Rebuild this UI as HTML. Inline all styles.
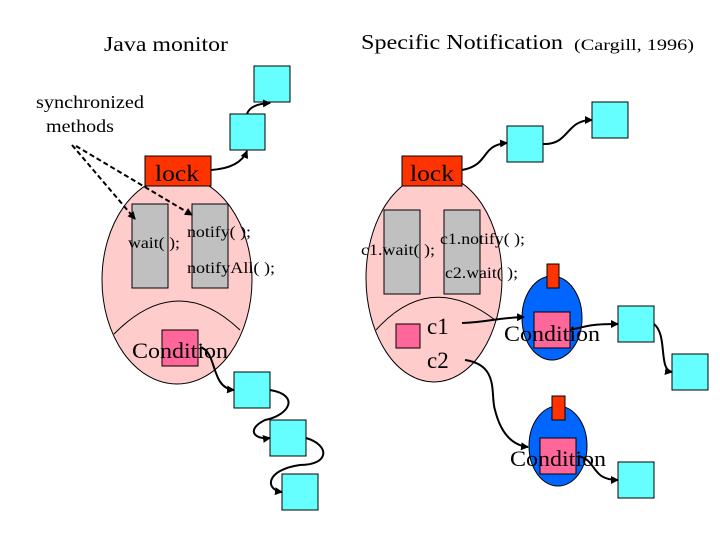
<!DOCTYPE html>
<html><head><meta charset="utf-8"><style>body{margin:0;background:#fff}svg{display:block}</style></head>
<body>
<svg width="720" height="540" viewBox="0 0 720 540" xmlns="http://www.w3.org/2000/svg" font-family="Liberation Serif, serif">
<defs>
<marker id="a" markerWidth="8" markerHeight="8" refX="7" refY="4" orient="auto" markerUnits="userSpaceOnUse"><path d="M0,0 L8,4 L0,8 z" fill="#000"/></marker>
</defs>
<text x="104" y="51" font-size="21" textLength="124" lengthAdjust="spacingAndGlyphs">Java monitor</text>
<text x="361" y="49" font-size="21" textLength="202" lengthAdjust="spacingAndGlyphs">Specific Notification</text>
<text x="574" y="50" font-size="16" textLength="120" lengthAdjust="spacingAndGlyphs">(Cargill, 1996)</text>
<text x="36" y="108" font-size="18" textLength="108" lengthAdjust="spacingAndGlyphs">synchronized</text>
<text x="46" y="132" font-size="18" textLength="68" lengthAdjust="spacingAndGlyphs">methods</text>

<!-- left monitor -->
<ellipse cx="177" cy="280" rx="75" ry="104" fill="#ffcccc" stroke="#000" stroke-width="1"/>
<path d="M114,334 Q177,270 240,330" fill="none" stroke="#000" stroke-width="1"/>
<rect x="132" y="204" width="36" height="84" fill="#c0c0c0" stroke="#000"/>
<rect x="192" y="204" width="36" height="84" fill="#c0c0c0" stroke="#000"/>
<text x="128" y="248" font-size="16" textLength="52" lengthAdjust="spacingAndGlyphs">wait( );</text>
<text x="187" y="237" font-size="16" textLength="64" lengthAdjust="spacingAndGlyphs">notify( );</text>
<text x="187" y="273" font-size="16" textLength="88" lengthAdjust="spacingAndGlyphs">notifyAll( );</text>
<rect x="162" y="330" width="36" height="36" fill="#ff6699" stroke="#000"/>
<text x="132" y="358" font-size="22" textLength="96" lengthAdjust="spacingAndGlyphs">Condition</text>
<rect x="145" y="156" width="66" height="30" fill="#ff3300" stroke="#000"/>
<text x="155" y="181" font-size="23" textLength="44" lengthAdjust="spacingAndGlyphs">lock</text>
<path d="M72,145 L135,219" stroke="#000" stroke-width="2" stroke-dasharray="5,3" fill="none" marker-end="url(#a)"/>
<path d="M76,146 L192,215" stroke="#000" stroke-width="2" stroke-dasharray="5,3" fill="none" marker-end="url(#a)"/>

<rect x="230" y="114" width="35" height="36" fill="#66ffff" stroke="#000"/>
<rect x="254" y="66" width="36" height="36" fill="#66ffff" stroke="#000"/>
<path d="M211,170 Q240,168 247,151" stroke="#000" stroke-width="2" fill="none" marker-end="url(#a)"/>
<path d="M247,114 Q250,104 270,103" stroke="#000" stroke-width="2" fill="none" marker-end="url(#a)"/>

<rect x="234" y="372" width="36" height="36" fill="#66ffff" stroke="#000"/>
<rect x="270" y="420" width="36" height="36" fill="#66ffff" stroke="#000"/>
<rect x="282" y="474" width="36" height="36" fill="#66ffff" stroke="#000"/>
<path d="M200,347 C218,352 210,388 234,390" stroke="#000" stroke-width="2" fill="none" marker-end="url(#a)"/>
<path d="M270,390 C300,395 290,415 265,420 C245,430 255,440 270,438" stroke="#000" stroke-width="2" fill="none" marker-end="url(#a)"/>
<path d="M306,438 C330,445 330,465 300,465 C265,470 265,490 282,492" stroke="#000" stroke-width="2" fill="none" marker-end="url(#a)"/>

<!-- right monitor -->
<ellipse cx="434" cy="278" rx="68" ry="104" fill="#ffcccc" stroke="#000" stroke-width="1"/>
<path d="M376,330 Q430,270 495,320" fill="none" stroke="#000" stroke-width="1"/>
<rect x="384" y="210" width="36" height="84" fill="#c0c0c0" stroke="#000"/>
<rect x="444" y="210" width="36" height="84" fill="#c0c0c0" stroke="#000"/>
<text x="361" y="255" font-size="16" textLength="74" lengthAdjust="spacingAndGlyphs">c1.wait( );</text>
<text x="440" y="244" font-size="16" textLength="85" lengthAdjust="spacingAndGlyphs">c1.notify( );</text>
<text x="445" y="278" font-size="16" textLength="73" lengthAdjust="spacingAndGlyphs">c2.wait( );</text>
<rect x="396" y="324" width="24" height="24" fill="#ff6699" stroke="#000"/>
<text x="427" y="334" font-size="23">c1</text>
<text x="427" y="368" font-size="23">c2</text>
<rect x="402" y="156" width="60" height="30" fill="#ff3300" stroke="#000"/>
<text x="410" y="181" font-size="23" textLength="44" lengthAdjust="spacingAndGlyphs">lock</text>

<rect x="507" y="126" width="36" height="36" fill="#66ffff" stroke="#000"/>
<rect x="592" y="102" width="36" height="36" fill="#66ffff" stroke="#000"/>
<path d="M462,170 C490,165 480,145 507,143" stroke="#000" stroke-width="2" fill="none" marker-end="url(#a)"/>
<path d="M543,144 C570,145 565,120 592,120" stroke="#000" stroke-width="2" fill="none" marker-end="url(#a)"/>

<ellipse cx="552" cy="318" rx="30" ry="42" fill="#0066ff" stroke="#000"/>
<rect x="547" y="264" width="12" height="24" fill="#ff3300" stroke="#000"/>
<rect x="534" y="312" width="36" height="36" fill="#ff6699" stroke="#000"/>
<text x="504" y="341" font-size="22" textLength="96" lengthAdjust="spacingAndGlyphs">Condition</text>
<path d="M462,323 C490,322 495,318 524,317" stroke="#000" stroke-width="2" fill="none" marker-end="url(#a)"/>
<rect x="618" y="306" width="36" height="36" fill="#66ffff" stroke="#000"/>
<rect x="672" y="354" width="36" height="36" fill="#66ffff" stroke="#000"/>
<path d="M570,330 C590,325 595,324 618,324" stroke="#000" stroke-width="2" fill="none" marker-end="url(#a)"/>
<path d="M654,324 C668,335 658,370 672,372" stroke="#000" stroke-width="2" fill="none" marker-end="url(#a)"/>

<ellipse cx="558" cy="446" rx="29" ry="40" fill="#0066ff" stroke="#000"/>
<rect x="552" y="396" width="13" height="24" fill="#ff3300" stroke="#000"/>
<rect x="540" y="438" width="36" height="36" fill="#ff6699" stroke="#000"/>
<text x="510" y="466" font-size="22" textLength="96" lengthAdjust="spacingAndGlyphs">Condition</text>
<path d="M465,360 C500,365 490,395 495,410 C500,430 510,445 528,447" stroke="#000" stroke-width="2" fill="none" marker-end="url(#a)"/>
<rect x="618" y="462" width="36" height="36" fill="#66ffff" stroke="#000"/>
<path d="M578,456 C598,460 590,480 618,480" stroke="#000" stroke-width="2" fill="none" marker-end="url(#a)"/>
</svg>
</body></html>
